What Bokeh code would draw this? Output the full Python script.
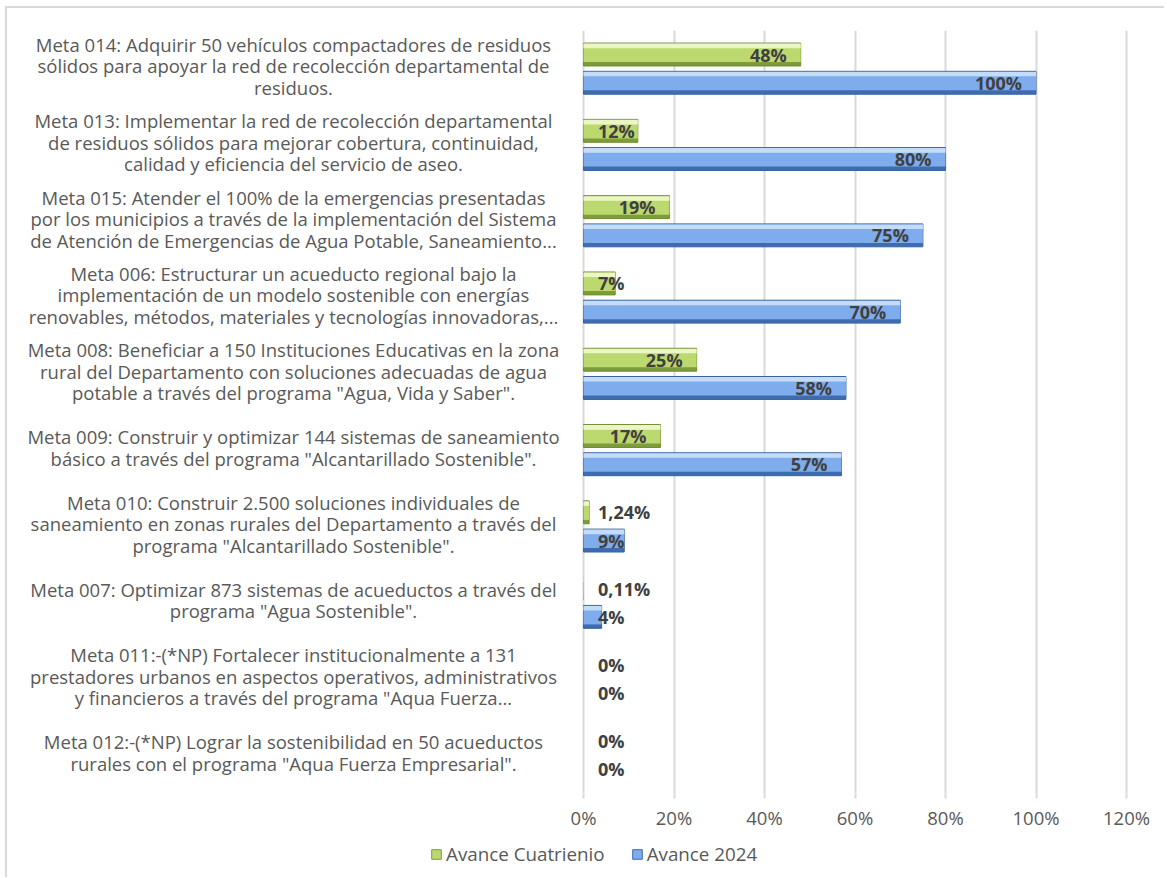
from bokeh.plotting import figure
from bokeh.models import ColumnDataSource, Range1d, FixedTicker, Legend, LegendItem
from bokeh.layouts import column
from bokeh.core.properties import value
from bokeh.embed import file_html
from bokeh.resources import INLINE

# ---------------- data ----------------
metas = [
    "Meta 014: Adquirir 50 vehículos compactadores de residuos\nsólidos para apoyar la red de recolección departamental de\nresiduos.",
    "Meta 013: Implementar la red de recolección departamental\nde residuos sólidos para mejorar cobertura, continuidad,\ncalidad y eficiencia del servicio de aseo.",
    "Meta 015: Atender el 100% de la emergencias presentadas\npor los municipios a través de la implementación del Sistema\nde Atención de Emergencias de Agua Potable, Saneamiento...",
    "Meta 006: Estructurar un acueducto regional bajo la\nimplementación de un modelo sostenible con energías\nrenovables, métodos, materiales y tecnologías innovadoras,...",
    "Meta 008: Beneficiar a 150 Instituciones Educativas en la zona\nrural del Departamento con soluciones adecuadas de agua\npotable a través del programa \"Agua, Vida y Saber\".",
    "Meta 009: Construir y optimizar 144 sistemas de saneamiento\nbásico a través del programa \"Alcantarillado Sostenible\".",
    "Meta 010: Construir 2.500 soluciones individuales de\nsaneamiento en zonas rurales del Departamento a través del\nprograma \"Alcantarillado Sostenible\".",
    "Meta 007: Optimizar 873 sistemas de acueductos a través del\nprograma \"Agua Sostenible\".",
    "Meta 011:-(*NP) Fortalecer institucionalmente a 131\nprestadores urbanos en aspectos operativos, administrativos\ny financieros a través del programa \"Aqua Fuerza...",
    "Meta 012:-(*NP) Lograr la sostenibilidad en 50 acueductos\nrurales con el programa \"Aqua Fuerza Empresarial\".",
]
avance_cuatrienio = [48, 12, 19, 7, 25, 17, 1.24, 0.11, 0, 0]
avance_2024 = [100, 80, 75, 70, 58, 57, 9, 4, 0, 0]
series_names = ["Avance Cuatrienio", "Avance 2024"]
x_ticks = [0, 20, 40, 60, 80, 100, 120]
x_tick_labels = ["0%", "20%", "40%", "60%", "80%", "100%", "120%"]

# ---------------- layout constants ----------------
FRAME_W = 1150
FRAME_H = 763
ZERO_PX = 573          # px from frame left to 0%
PX_PER_PCT = 4.525
X0 = -ZERO_PX / PX_PER_PCT
X1 = (FRAME_W - ZERO_PX) / PX_PER_PCT
LABEL_CENTER_PX = 283
LABEL_X = (LABEL_CENTER_PX - ZERO_PX) / PX_PER_PCT
LABEL_DY = -0.035

BAR_H = 0.30
OFF = 0.185
LBL_GAP = 14 / PX_PER_PCT      # inside-end gap
LBL_MIN = 14.5 / PX_PER_PCT    # left position when label does not fit
LBL_W = 36 / PX_PER_PCT

n = len(metas)
idx = list(range(n))


def fmt(v):
    if float(v).is_integer():
        return f"{int(v)}%"
    return f"{v:.2f}".replace(".", ",") + "%"


def label_pos(vals):
    xs, aligns = [], []
    for v in vals:
        if v - LBL_GAP - LBL_W >= LBL_MIN:
            xs.append(v - LBL_GAP)
            aligns.append("right")
        else:
            xs.append(LBL_MIN)
            aligns.append("left")
    return xs, aligns


p = figure(
    frame_width=FRAME_W, frame_height=FRAME_H,
    x_range=Range1d(X0, X1), y_range=Range1d(n - 0.5, -0.5),
    output_backend="svg", toolbar_location=None,
    min_border_left=3, min_border_right=4, min_border_top=22, min_border_bottom=40,
)
p.outline_line_color = None
p.background_fill_color = "white"
p.border_fill_color = "white"

p.yaxis.visible = False
p.ygrid.grid_line_color = None
p.xgrid.ticker = FixedTicker(ticks=x_ticks)
p.xgrid.grid_line_color = "#d9d9d9"
p.xgrid.grid_line_width = 2

ax = p.xaxis[0]
ax.ticker = FixedTicker(ticks=x_ticks)
ax.major_label_overrides = {t: l for t, l in zip(x_ticks, x_tick_labels)}
ax.axis_line_color = None
ax.major_tick_line_color = "#d9d9d9"
ax.major_tick_line_width = 2
ax.major_tick_in = 0
ax.major_tick_out = 5
ax.minor_tick_line_color = None
ax.major_label_standoff = 6
ax.major_label_text_font = "Open Sans"
ax.major_label_text_font_size = "18.5px"
ax.major_label_text_color = "#595959"

palettes = {
    "green": ("#7d9c3a", "#bcd970", "#eef7c8", "#6f8c30"),
    "blue": ("#3e6cb0", "#7eacec", "#c9defa", "#38629f"),
}

# legend strip (separate small figure under the chart)
pl = figure(
    width=FRAME_W + 7, height=44, x_range=Range1d(0, 1), y_range=Range1d(0, 1),
    output_backend="svg", toolbar_location=None, min_border=0,
)
pl.axis.visible = False
pl.grid.grid_line_color = None
pl.outline_line_color = None
pl.background_fill_color = "white"
pl.border_fill_color = "white"

legend_items = []
for name, vals, off, pal in [
    (series_names[0], avance_cuatrienio, -OFF, palettes["green"]),
    (series_names[1], avance_2024, OFF, palettes["blue"]),
]:
    ys = [i + off for i in idx]
    lx, la = label_pos(vals)
    src = ColumnDataSource(dict(
        y=ys,
        y_mid=[y - BAR_H * 0.07 for y in ys],
        y_top=[y - BAR_H * 0.38 for y in ys],
        v=vals,
        lx=lx, la=la,
        la_line=[1.0 if v > 0.5 else 0.0 for v in vals],
        txt=[fmt(v) for v in vals],
    ))
    dark, mid, light, edge = pal
    p.hbar(y="y", left=0, right="v", height=BAR_H, source=src,
           fill_color=dark, line_color=edge, line_width=1, line_alpha="la_line")
    p.hbar(y="y_mid", left=0, right="v", height=BAR_H * 0.80, source=src,
           fill_color=mid, line_color=None)
    p.hbar(y="y_top", left=0, right="v", height=BAR_H * 0.20, source=src,
           fill_color=light, line_color=None, fill_alpha=0.95)
    p.text(x="lx", y="y", text="txt", source=src, text_align="la",
           text_baseline="middle", text_font=value("Open Sans"),
           text_font_style="bold", text_font_size="18px", text_color="#404040")
    # legend proxy: same series drawn in the legend strip, outside its visible range
    proxy = ColumnDataSource(dict(y=[-5.0] * len(vals), v=vals))
    lr = pl.hbar(y="y", left=0, right="v", height=0.1, source=proxy,
                 fill_color=mid, line_color=dark, line_width=1)
    legend_items.append(LegendItem(label=name, renderers=[lr]))

lab_src = ColumnDataSource(dict(x=[LABEL_X] * n, y=[i + LABEL_DY for i in idx], t=metas))
p.text(x="x", y="y", text="t", source=lab_src, text_align="center",
       text_baseline="middle", text_font=value("Open Sans"),
       text_font_size="18.5px", text_color="#595959", text_line_height=0.86)

legend = Legend(items=legend_items, orientation="horizontal", location=(420, 10))
legend.label_text_font = "Open Sans"
legend.label_text_font_size = "18.8px"
legend.label_text_color = "#595959"
legend.glyph_width = 12
legend.glyph_height = 12
legend.label_standoff = 4
legend.spacing = 26
legend.border_line_color = None
legend.background_fill_alpha = 0
legend.margin = 0
legend.padding = 5
pl.add_layout(legend, "center")

layout = column(p, pl, spacing=0,
                styles={"border-top": "2px solid #d9d9d9", "border-left": "2px solid #d9d9d9",
                        "margin-left": "5px", "margin-top": "6px"})

open("out.html", "w").write(file_html(layout, INLINE))
